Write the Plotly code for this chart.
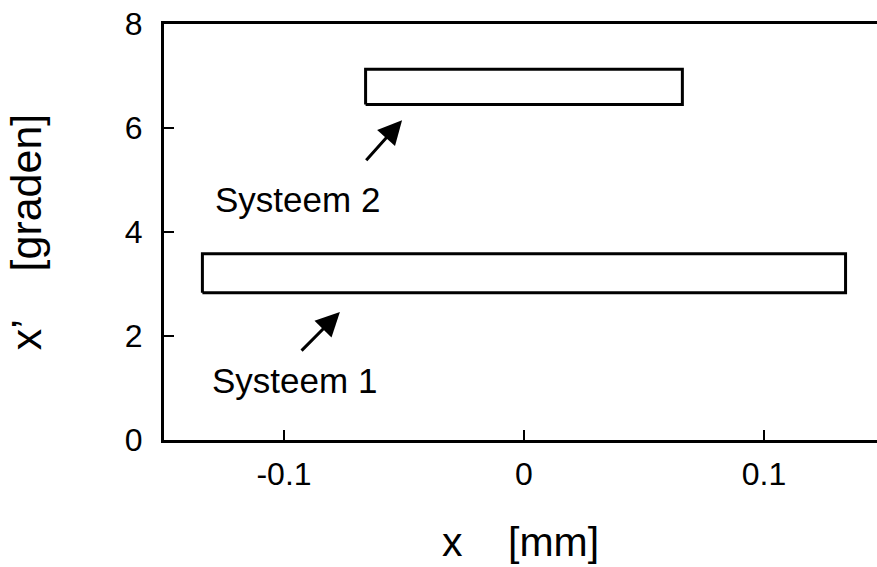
import plotly.graph_objects as go

# Phase-space acceptance boxes: x [mm] vs x' [graden]
systems = ["Systeem 1", "Systeem 2"]
x_min = [-0.134, -0.066]
x_max = [0.134, 0.066]
xp_min = [2.83, 6.45]
xp_max = [3.58, 7.13]

# label anchor and arrow (tail -> head) per system
label_x = [-0.0955, -0.0945]
label_y = [1.15, 4.62]
arrow_tail_x = [-0.0933, -0.0663]
arrow_tail_y = [1.69, 5.35]
arrow_head_x = [-0.0767, -0.0508]
arrow_head_y = [2.46, 6.15]

x_ticks = [-0.1, 0, 0.1]
x_tick_text = ["-0.1", "0", "0.1"]
y_ticks = [0, 2, 4, 6, 8]

FONT = "Liberation Sans, Arial, Helvetica, sans-serif"

fig = go.Figure()

for i, name in enumerate(systems):
    fig.add_trace(go.Scatter(
        x=[x_min[i], x_max[i], x_max[i], x_min[i], x_min[i]],
        y=[xp_min[i], xp_min[i], xp_max[i], xp_max[i], xp_min[i]],
        mode="lines",
        line=dict(color="black", width=3),
        name=name,
        showlegend=False,
        hoverinfo="skip",
    ))
    fig.add_annotation(
        x=label_x[i], y=label_y[i], text=name, showarrow=False,
        font=dict(family=FONT, size=35, color="black"),
        xanchor="center", yanchor="middle",
    )
    fig.add_annotation(
        x=arrow_head_x[i], y=arrow_head_y[i],
        ax=arrow_tail_x[i], ay=arrow_tail_y[i],
        xref="x", yref="y", axref="x", ayref="y",
        text="", showarrow=True, arrowhead=2, arrowsize=1.6,
        arrowwidth=3, arrowcolor="black",
    )

fig.update_xaxes(
    range=[-0.15, 0.1471],
    tickvals=x_ticks, ticktext=x_tick_text,
    ticks="inside", ticklen=10, tickwidth=2, tickcolor="black",
    showline=True, linewidth=3, linecolor="black", mirror=True,
    showgrid=False, zeroline=False,
    tickfont=dict(family=FONT, size=32, color="black"),
    ticklabelstandoff=4,
    title=dict(text="x\u00a0\u00a0\u00a0\u00a0[mm]", font=dict(family=FONT, size=41, color="black"), standoff=36),
)
fig.update_yaxes(
    range=[0, 8],
    tickvals=y_ticks,
    ticks="inside", ticklen=10, tickwidth=2, tickcolor="black",
    showline=True, linewidth=3, linecolor="black", mirror=False,
    showgrid=False, zeroline=False,
    tickfont=dict(family=FONT, size=32, color="black"),
    ticklabelstandoff=12,
    title=dict(text="x\u2019\u00a0\u00a0\u00a0\u00a0[graden]", font=dict(family=FONT, size=43, color="black"), standoff=70),
)

fig.update_layout(
    width=877, height=567,
    margin=dict(l=164, r=0, t=24, b=127),
    plot_bgcolor="white", paper_bgcolor="white",
    showlegend=False,
)

fig.write_html("out.html")
